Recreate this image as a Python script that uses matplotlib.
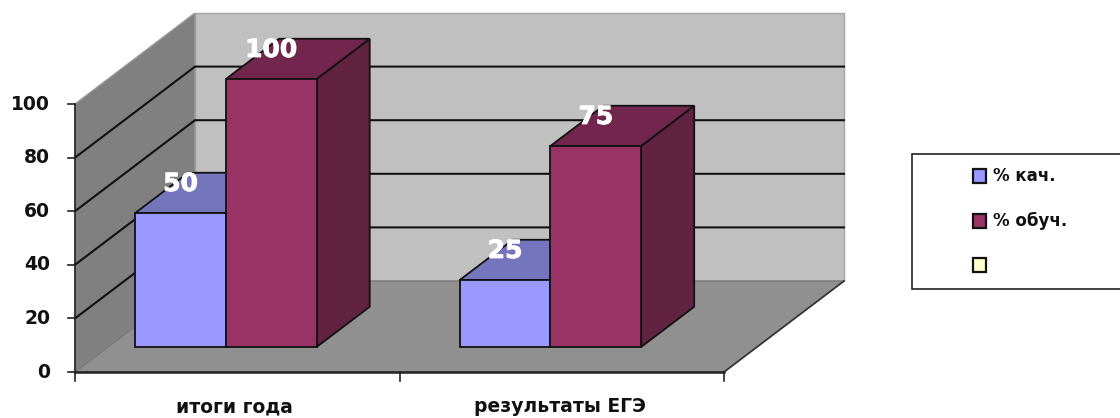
import matplotlib
matplotlib.use("Agg")
import matplotlib.pyplot as plt
from matplotlib.patches import Polygon, Rectangle
import matplotlib.patheffects as pe

categories = ["итоги года", "результаты ЕГЭ"]
kach = [50, 25]
obuch = [100, 75]
series_names = ["% кач.", "% обуч.", ""]
yticks = [0, 20, 40, 60, 80, 100]

# pixel layout of the picture
W, H = 1120, 418
x0_px, cat_px = 75, 324.5
y0_px, val_px = 372, 2.68
depth_dx = 120 / cat_px
depth_dy = 91 / val_px

fig = plt.figure(figsize=(W / 100, H / 100), dpi=100)
ax = fig.add_axes([0, 0, 1, 1])
ax.set_xlim(-x0_px / cat_px, (W - x0_px) / cat_px)
ax.set_ylim(-(H - y0_px) / val_px, y0_px / val_px)
ax.axis("off")

font = "DejaVu Sans"


def pr(x, y, d=0.0):
    # front plane point pushed back by depth d (0-1)
    return (x + d * depth_dx, y + d * depth_dy)


def poly(pts, color, edge="none", lw=0, z=1):
    ax.add_patch(Polygon(pts, closed=True, facecolor=color, edgecolor=edge,
                         linewidth=lw, joinstyle="miter", zorder=z))


ncat = len(categories)
ymax = yticks[-1]

# walls and floor
poly([pr(0, 0, 1), pr(ncat, 0, 1), pr(ncat, ymax, 1), pr(0, ymax, 1)], "#c0c0c0", "#a6a6a6", 1)
poly([pr(0, 0), pr(0, 0, 1), pr(0, ymax, 1), pr(0, ymax)], "#808080", "#9a9a9a", 1)
poly([pr(0, 0), pr(ncat, 0), pr(ncat, 0, 1), pr(0, 0, 1)], "#909090", "#777777", 1, z=1.5)

# gridlines, none along the top of the walls
for v in yticks[1:-1]:
    ax.plot(*zip(pr(0, v), pr(0, v, 1), pr(ncat, v, 1)), color="#111111", lw=1.5, zorder=1.2,
            solid_joinstyle="miter")

# axes
ax.plot(*zip(pr(0, 0), pr(0, ymax)), color="#222222", lw=1.2, zorder=2)
ax.plot(*zip(pr(0, 0), pr(ncat, 0)), color="#222222", lw=1.8, zorder=2)
ax.plot(*zip(pr(ncat, 0), pr(ncat, 0, 1)), color="#333333", lw=1.2, zorder=2)
for v in yticks:
    ax.plot([-7 / cat_px, 0], [v, v], color="#222222", lw=1.2, zorder=2)
    ax.text(-25 / cat_px, v, str(v), ha="right", va="center", fontsize=13.5,
            fontweight="bold", family=font, color="#111111")
for i in range(ncat + 1):
    ax.plot([i, i], [0, -9 / val_px], color="#222222", lw=1.2, zorder=2)
for i, c in enumerate(categories):
    ax.text(i + 0.49 + 0.005 * i, -35 / val_px, c, ha="center", va="center", fontsize=13.5,
            fontweight="bold", family=font, color="#111111")


def bar3d(x1, x2, v, front, top, side, z):
    d1, d2 = 0.275, 0.717
    poly([pr(x2, 0, d1), pr(x2, 0, d2), pr(x2, v, d2), pr(x2, v, d1)], side, "#111111", 1.3, z)
    poly([pr(x1, v, d1), pr(x2, v, d1), pr(x2, v, d2), pr(x1, v, d2)], top, "#111111", 1.3, z)
    poly([pr(x1, 0, d1), pr(x2, 0, d1), pr(x2, v, d1), pr(x1, v, d1)], front, "#111111", 1.3, z)


bar_lefts = [0.084, 1.084]
bar_w = 0.2795
for i in range(ncat):
    xa = bar_lefts[i]
    bar3d(xa, xa + bar_w, kach[i], "#9999ff", "#7575bd", "#5f5f9f", 3 + i)
    bar3d(xa + bar_w, xa + 2 * bar_w, obuch[i], "#993366", "#73264d", "#612340", 3.5 + i)
    for v, xc in ((kach[i], xa + bar_w / 2), (obuch[i], xa + 1.5 * bar_w)):
        px, py = pr(xc, v, 0.275)
        t = ax.annotate(str(v), (px, py), xytext=(0, 29), textcoords="offset pixels",
                        ha="center", va="center", fontsize=18, fontweight="bold",
                        family=font, color="white", zorder=8)
        t.set_path_effects([pe.withStroke(linewidth=0.6, foreground="white")])

# legend box drawn in figure pixels
tr = fig.transFigure
fig.add_artist(Rectangle((912 / W, 1 - 289 / H), 220 / W, 135 / H, transform=tr,
                         facecolor="white", edgecolor="#222222", linewidth=1.2))
legend_colors = ["#9999ff", "#993366", "#ffffcc"]
for name, col, yp in zip(series_names, legend_colors, [176, 221, 265]):
    fig.add_artist(Rectangle((973 / W, 1 - (yp + 7) / H), 13 / W, 14 / H, transform=tr,
                             facecolor=col, edgecolor="#111111", linewidth=1.6))
    if name:
        fig.text(993 / W, 1 - yp / H, name, ha="left", va="center", fontsize=12,
                 fontweight="bold", family=font, color="#111111")

fig.savefig("out.png", dpi=100)
